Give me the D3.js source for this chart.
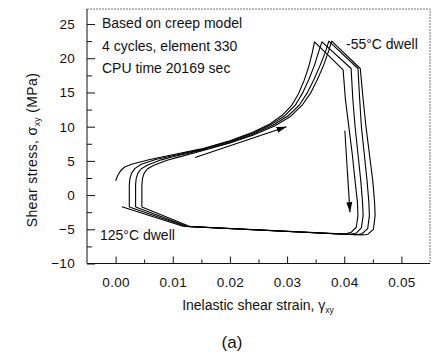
<!DOCTYPE html>
<html>
<head>
<meta charset="utf-8">
<script src="https://cdn.jsdelivr.net/npm/d3@7"></script>
<style>
  body { margin: 0; background: #fff; }
  svg { display: block; }
  text { font-family: "Liberation Sans", Arial, sans-serif; fill: #111; }
</style>
</head>
<body>
<svg id="chart" width="442" height="361"></svg>
<script>
'use strict';

// strain (gamma_xy), stress (MPa) pairs, one array per cycle
const cycle1 = [
  [0.0000, 2.1], [0.0004, 2.9], [0.0009, 3.6], [0.0016, 4.1], [0.0028, 4.5],
  [0.0060, 5.2], [0.0100, 5.9], [0.0150, 6.75], [0.0200, 7.95], [0.0240, 9.2],
  [0.0270, 10.4], [0.0292, 11.7], [0.0308, 13.1], [0.0320, 14.8], [0.0330, 16.8],
  [0.0338, 18.8], [0.0344, 20.8], [0.0348, 22.4],
  [0.0398, 18.3],
  [0.0402, 14], [0.0408, 10], [0.0414, 6], [0.0419, 2], [0.0423, -1],
  [0.0424, -3], [0.0421, -4.7], [0.0412, -5.45], [0.0400, -5.72],
  [0.0118, -4.56],
  [0.0011, -1.7]
];

const cycle2 = [
  [0.0024, -1.75], [0.0024, 1.5], [0.0025, 2.4], [0.0028, 3.2], [0.0034, 3.9],
  [0.0045, 4.5], [0.0070, 5.2], [0.0100, 5.75], [0.0150, 6.65], [0.0200, 7.85],
  [0.0240, 9.05], [0.0272, 10.3], [0.0296, 11.6], [0.0314, 13.1], [0.0327, 14.9],
  [0.0338, 16.9], [0.0348, 19.0], [0.0355, 20.9], [0.0361, 22.4],
  [0.0412, 18.5],
  [0.0415, 14], [0.0419, 10], [0.0424, 6], [0.0429, 2], [0.0432, -1],
  [0.0433, -3], [0.0430, -4.8], [0.0421, -5.55], [0.0410, -5.76],
  [0.0122, -4.57],
  [0.0024, -1.75]
];

const cycle3 = [
  [0.0035, -1.75], [0.0035, 1.5], [0.0036, 2.4], [0.0039, 3.2], [0.0045, 3.85],
  [0.0056, 4.4], [0.0080, 5.15], [0.0100, 5.6], [0.0150, 6.55], [0.0200, 7.7],
  [0.0240, 8.9], [0.0275, 10.2], [0.0302, 11.6], [0.0321, 13.1], [0.0335, 14.9],
  [0.0347, 16.9], [0.0358, 19.0], [0.0367, 20.9], [0.0373, 22.5],
  [0.0424, 18.5],
  [0.0427, 14], [0.0430, 10], [0.0435, 6], [0.0440, 2], [0.0443, -1],
  [0.0444, -3], [0.0441, -4.9], [0.0431, -5.65], [0.0420, -5.8],
  [0.0126, -4.59],
  [0.0035, -1.75]
];

const cycle4 = [
  [0.0046, -1.75], [0.0046, 1.5], [0.0047, 2.4], [0.0050, 3.2], [0.0056, 3.85],
  [0.0067, 4.35], [0.0090, 5.1], [0.0110, 5.55], [0.0150, 6.45], [0.0200, 7.6],
  [0.0240, 8.75], [0.0278, 10.1], [0.0306, 11.5], [0.0326, 13.1], [0.0341, 14.9],
  [0.0353, 16.9], [0.0364, 19.0], [0.0372, 20.9], [0.0378, 22.5],
  [0.0428, 18.5],
  [0.0433, 14], [0.0438, 10], [0.0444, 6], [0.0450, 2], [0.0453, -1],
  [0.0454, -3], [0.0451, -5.0], [0.0441, -5.75], [0.0430, -5.82],
  [0.0130, -4.6],
  [0.0046, -1.75]
];

// direction arrows: [from, to]
const loadArrow   = [[0.0139, 5.5], [0.0299, 10.0]];
const unloadArrow = [[0.0401, 9.4], [0.0410, -2.5]];

const xTicks = [0.00, 0.01, 0.02, 0.03, 0.04, 0.05];
const xMinor = [0.005, 0.015, 0.025, 0.035, 0.045];
const yTicks = [-10, -5, 0, 5, 10, 15, 20, 25];
const yMinor = [-7.5, -2.5, 2.5, 7.5, 12.5, 17.5, 22.5];

const notes = ['Based on creep model', '4 cycles, element 330', 'CPU time 20169 sec'];

// ── Layout ─────────────────────────────────────────
const plotL = 87, plotR = 430, plotT = 9, plotB = 263.5;

const svg = d3.select('#chart');
svg.append('rect').attr('width', 442).attr('height', 361).attr('fill', '#fff');

const x = d3.scaleLinear().domain([-0.005, 0.055]).range([plotL, plotR]);
const y = d3.scaleLinear().domain([-10, 27.2]).range([plotB, plotT]);

// ── Frame (top/right are faint in the scan) ────────
svg.append('path')
  .attr('d', `M${plotL},${plotT}H${plotR}V${plotB}`)
  .attr('fill', 'none')
  .attr('stroke', '#777')
  .attr('stroke-width', 1)
  .attr('stroke-dasharray', '2,1');

// ── Axes (ticks inward) ────────────────────────────
const xAxis = svg.append('g').attr('transform', `translate(0,${plotB})`)
  .call(d3.axisBottom(x).tickValues(xTicks).tickSize(-7).tickPadding(14)
    .tickFormat(d3.format('.2f')));
svg.append('g').attr('transform', `translate(0,${plotB})`)
  .call(d3.axisBottom(x).tickValues(xMinor).tickSize(-4).tickFormat(''))
  .select('.domain').remove();

const yAxis = svg.append('g').attr('transform', `translate(${plotL},0)`)
  .call(d3.axisLeft(y).tickValues(yTicks).tickSize(-8).tickPadding(12));
svg.append('g').attr('transform', `translate(${plotL},0)`)
  .call(d3.axisLeft(y).tickValues(yMinor).tickSize(-5).tickFormat(''))
  .select('.domain').remove();

xAxis.select('.domain').attr('d', `M${plotL},0H${plotR}`).attr('stroke', '#111');
yAxis.select('.domain').attr('d', `M0,${plotT}V${plotB}`).attr('stroke', '#111');

svg.selectAll('.tick line').attr('stroke', '#111');
svg.selectAll('.tick text')
  .attr('font-family', '"Liberation Sans", Arial, sans-serif')
  .attr('font-size', 13.5)
  .attr('letter-spacing', 0.3)
  .attr('fill', '#111');

// ── Curves ─────────────────────────────────────────
const line = d3.line()
  .x(d => x(d[0]))
  .y(d => y(d[1]))
  .curve(d3.curveLinear);

svg.append('g').selectAll('path')
  .data([cycle1, cycle2, cycle3, cycle4])
  .join('path')
    .attr('d', line)
    .attr('fill', 'none')
    .attr('stroke', '#000')
    .attr('stroke-width', 1.1)
    .attr('stroke-linejoin', 'round');

// ── Arrows ─────────────────────────────────────────
svg.append('defs').append('marker')
  .attr('id', 'head')
  .attr('viewBox', '0 -5 10 10')
  .attr('refX', 10)
  .attr('refY', 0)
  .attr('markerUnits', 'userSpaceOnUse')
  .attr('markerWidth', 10)
  .attr('markerHeight', 10)
  .attr('orient', 'auto')
  .append('path')
    .attr('d', 'M0,-3L10,0L0,3Z')
    .attr('fill', '#000');

svg.append('g').selectAll('path')
  .data([loadArrow, unloadArrow])
  .join('path')
    .attr('d', line)
    .attr('fill', 'none')
    .attr('stroke', '#000')
    .attr('stroke-width', 1.1)
    .attr('marker-end', 'url(#head)');

// ── Annotations ────────────────────────────────────
svg.append('g').selectAll('text')
  .data(notes)
  .join('text')
    .attr('x', 102)
    .attr('y', (d, i) => 28 + i * 22.5)
    .attr('font-size', 14)
    .text(d => d);

svg.append('text')
  .attr('x', 346).attr('y', 49)
  .attr('font-size', 14)
  .text('-55°C dwell');

svg.append('text')
  .attr('x', 100).attr('y', 240)
  .attr('font-size', 14)
  .text('125°C dwell');

// ── Axis titles ────────────────────────────────────
const xt = svg.append('text')
  .attr('x', 258).attr('y', 310)
  .attr('text-anchor', 'middle')
  .attr('font-size', 14);
xt.append('tspan').text('Inelastic shear strain, γ');
xt.append('tspan').attr('font-size', 8.5).attr('dy', 3).text('xy');

const yt = svg.append('text')
  .attr('transform', 'translate(37,150) rotate(-90)')
  .attr('text-anchor', 'middle')
  .attr('font-size', 14)
  .attr('letter-spacing', 0.4);
yt.append('tspan').text('Shear stress,   σ');
yt.append('tspan').attr('font-size', 8.5).attr('dy', 3).text('xy');
yt.append('tspan').attr('dy', -3).text(' (MPa)');

svg.append('text')
  .attr('x', 232).attr('y', 348)
  .attr('text-anchor', 'middle')
  .attr('font-family', '"Liberation Serif", "Times New Roman", serif')
  .attr('font-size', 17)
  .text('(a)');
</script>
</body>
</html>
